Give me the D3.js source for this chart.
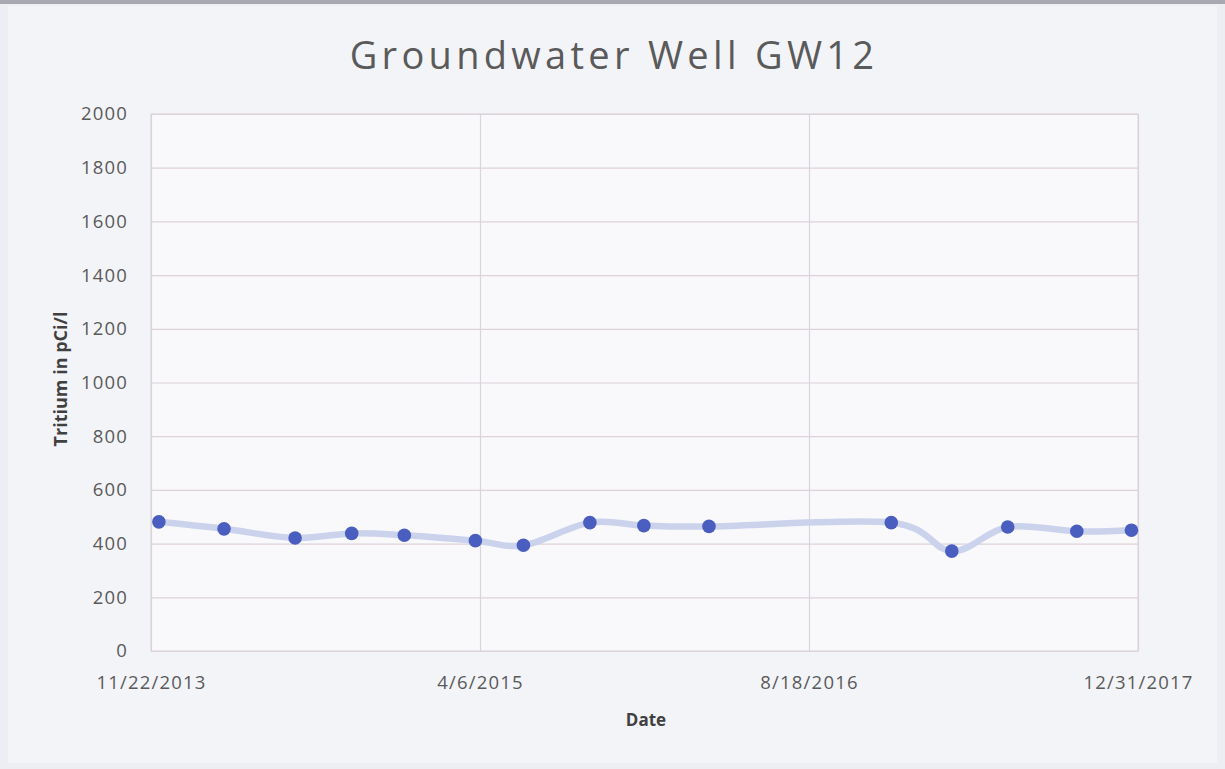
<!DOCTYPE html>
<html>
<head>
<meta charset="utf-8">
<script src="https://cdn.jsdelivr.net/npm/d3@7/dist/d3.min.js"></script>
<style>
  html, body { margin: 0; padding: 0; background: #eef0f5; }
  svg { display: block; }
</style>
</head>
<body>
<svg id="chart" width="1225" height="769"></svg>
<script>
// Sample dates and tritium readings (pCi/l) for well GW12
const sampleDates = [
  "2013-12-04", "2014-03-13", "2014-06-29", "2014-09-23", "2014-12-12",
  "2015-03-30", "2015-06-11", "2015-09-20", "2015-12-11", "2016-03-19",
  "2016-12-21", "2017-03-23", "2017-06-16", "2017-09-29", "2017-12-21"
];
const tritiumValues = [
  481, 455, 421, 438, 431,
  411, 394, 478, 467, 464,
  478, 372, 462, 446, 450
];
// Axis ticks: dates every 500 days, values every 200
const xTickLabels = ["2013-11-22", "2015-04-06", "2016-08-18", "2017-12-31"];
const yTickValues = [0, 200, 400, 600, 800, 1000, 1200, 1400, 1600, 1800, 2000];

const parse = d3.timeParse("%Y-%m-%d");
const fmt = d3.timeFormat("%-m/%-d/%Y");
const data = sampleDates.map((d, i) => ({ date: parse(d), value: tritiumValues[i] }));
const xTicks = xTickLabels.map(parse);

const svg = d3.select("#chart");
const W = 1225, H = 769;
const plot = { left: 151, right: 1138, top: 114, bottom: 651 };
const font = "'Open Sans', sans-serif";
const textColor = "#5a5a5a";

// Page and chart background
svg.append("rect").attr("width", W).attr("height", H).attr("fill", "#eceef4");
svg.append("rect").attr("x", 8).attr("y", 6).attr("width", W - 16).attr("height", H - 12)
  .attr("fill", "#f3f4f8");
svg.append("rect").attr("x", 0).attr("y", 0).attr("width", W).attr("height", 4)
  .attr("fill", "#a7a8b0");

const x = d3.scaleTime().domain([xTicks[0], xTicks[xTicks.length - 1]])
  .range([plot.left, plot.right]);
const y = d3.scaleLinear().domain([0, 2000]).range([plot.bottom, plot.top]);

// Plot area
svg.append("rect")
  .attr("x", plot.left).attr("y", plot.top)
  .attr("width", plot.right - plot.left).attr("height", plot.bottom - plot.top)
  .attr("fill", "#f9f9fc").attr("stroke", "#d8d0d6").attr("stroke-width", 1);

// Horizontal gridlines
svg.append("g")
  .attr("transform", `translate(${plot.left},0)`)
  .call(d3.axisLeft(y).tickValues(yTickValues).tickSize(-(plot.right - plot.left)).tickFormat(""))
  .call(g => g.select(".domain").remove())
  .call(g => g.selectAll("line").attr("stroke", "#dcd2d8").attr("stroke-width", 1.2));

// Vertical gridlines
svg.append("g")
  .attr("transform", `translate(0,${plot.bottom})`)
  .call(d3.axisBottom(x).tickValues(xTicks).tickSize(-(plot.bottom - plot.top)).tickFormat(""))
  .call(g => g.select(".domain").remove())
  .call(g => g.selectAll("line").attr("stroke", "#dcd4dc").attr("stroke-width", 1.2));

// Y tick labels
svg.append("g")
  .attr("transform", `translate(${plot.left},0)`)
  .call(d3.axisLeft(y).tickValues(yTickValues).tickSize(0).tickPadding(23).tickFormat(d3.format("d")))
  .call(g => g.select(".domain").remove())
  .call(g => g.selectAll("text")
    .attr("fill", textColor).style("font-family", font).style("font-size", "18.5px")
    .style("letter-spacing", "1.2px"));

// X tick labels
svg.append("g")
  .attr("transform", `translate(0,${plot.bottom})`)
  .call(d3.axisBottom(x).tickValues(xTicks).tickSize(0).tickPadding(25).tickFormat(fmt))
  .call(g => g.select(".domain").remove())
  .call(g => g.selectAll("text")
    .attr("fill", textColor).style("font-family", font).style("font-size", "18.5px")
    .style("letter-spacing", "1.2px"));

// Smoothed series line
const line = d3.line()
  .x(d => x(d.date)).y(d => y(d.value))
  .curve(d3.curveCatmullRom.alpha(0));
svg.append("path").datum(data)
  .attr("d", line)
  .attr("fill", "none")
  .attr("stroke", "#cbd2ec")
  .attr("stroke-width", 6.5)
  .attr("stroke-linejoin", "round")
  .attr("stroke-linecap", "round");

// Sample markers
svg.append("g").selectAll("circle").data(data).join("circle")
  .attr("cx", d => x(d.date)).attr("cy", d => y(d.value))
  .attr("r", 6.8)
  .attr("fill", "#4a5ec0");

// Title
svg.append("text")
  .attr("x", 614).attr("y", 69)
  .attr("text-anchor", "middle")
  .attr("fill", textColor)
  .style("font-family", font).style("font-size", "38px").style("letter-spacing", "4.3px")
  .text("Groundwater Well GW12");

// Axis titles
svg.append("text")
  .attr("transform", `translate(67,379) rotate(-90)`)
  .attr("text-anchor", "middle")
  .attr("fill", "#404040")
  .style("font-family", font).style("font-size", "18px").style("font-weight", "bold")
  .text("Tritium in pCi/l");

svg.append("text")
  .attr("x", 646).attr("y", 726)
  .attr("text-anchor", "middle")
  .attr("fill", "#404040")
  .style("font-family", font).style("font-size", "17px").style("font-weight", "bold")
  .text("Date");
</script>
</body>
</html>
